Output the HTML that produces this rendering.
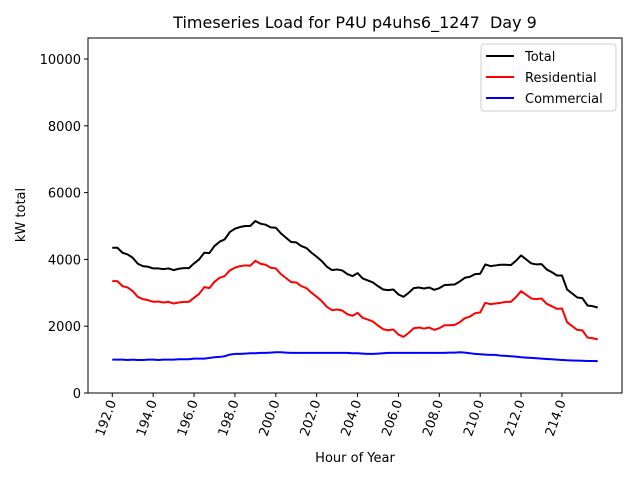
<!DOCTYPE html>
<html><head><meta charset="utf-8"><style>
body{margin:0;background:#fff;font-family:"DejaVu Sans","Liberation Sans",sans-serif}
svg text{font-family:"DejaVu Sans","Liberation Sans",sans-serif;fill:#000}
</style></head><body>
<svg id="chart" width="640" height="480" xmlns="http://www.w3.org/2000/svg">
<rect width="640" height="480" fill="#fff"/>
<text x="355" y="28" font-size="16" text-anchor="middle">Timeseries Load for P4U p4uhs6_1247&#160; Day 9</text>
<g id="grid"></g>
<g id="series"></g>
<rect x="88" y="38" width="534" height="355" fill="none" stroke="#000" stroke-width="1"/>
<g id="axes"></g>
<text x="355" y="462" font-size="13" text-anchor="middle">Hour of Year</text>
<text x="25" y="215" font-size="13" text-anchor="middle" transform="rotate(-90 25 215)">kW total</text>
<g>
<rect x="481" y="44" width="135" height="67" rx="3" fill="#fff" fill-opacity="0.8" stroke="#ccc"/>
<line x1="486" y1="56" x2="514" y2="56" stroke="#000" stroke-width="2"/>
<text x="525" y="61" font-size="13">Total</text>
<line x1="486" y1="77" x2="514" y2="77" stroke="#f00" stroke-width="2"/>
<text x="525" y="82" font-size="13">Residential</text>
<line x1="486" y1="98" x2="514" y2="98" stroke="#00f" stroke-width="2"/>
<text x="525" y="103" font-size="13">Commercial</text>
</g>
</svg>
<script>
const xStart = 192, xStep = 0.25;
const totalLoad = [4350,4350,4200,4150,4050,3870,3800,3780,3730,3730,3710,3730,3680,3720,3740,3740,
3880,4000,4200,4190,4400,4530,4600,4820,4920,4970,5000,5000,5150,5070,5040,4960,
4950,4780,4650,4520,4510,4400,4340,4200,4080,3950,3780,3680,3700,3670,3560,3500,
3590,3430,3370,3310,3200,3100,3080,3100,2950,2880,3000,3140,3160,3130,3160,3090,
3140,3230,3240,3250,3340,3450,3480,3560,3570,3850,3800,3820,3840,3840,3830,3960,
4120,4000,3880,3850,3860,3700,3620,3520,3520,3100,2980,2860,2840,2620,2600,2560];
const residentialLoad = [3350,3350,3200,3160,3050,2880,2810,2780,2730,2740,2710,2730,2680,2710,2730,2730,
2850,2970,3170,3140,3330,3450,3500,3670,3750,3800,3820,3810,3960,3870,3840,3750,
3730,3560,3440,3320,3310,3200,3140,3000,2880,2750,2580,2480,2500,2470,2360,2310,
2400,2250,2200,2140,2020,1910,1880,1900,1750,1680,1800,1940,1960,1930,1960,1890,
1940,2030,2030,2040,2120,2240,2290,2390,2410,2700,2660,2680,2700,2730,2730,2870,
3050,2940,2830,2810,2830,2670,2600,2520,2530,2120,2000,1890,1875,1660,1640,1605];
const commercialLoad = [1000,1000,1000,990,1000,990,990,1000,1000,990,1000,1000,1000,1010,1010,1010,
1030,1030,1030,1050,1070,1080,1100,1150,1170,1170,1180,1190,1190,1200,1200,1210,
1220,1220,1210,1200,1200,1200,1200,1200,1200,1200,1200,1200,1200,1200,1200,1190,
1190,1180,1170,1170,1180,1190,1200,1200,1200,1200,1200,1200,1200,1200,1200,1200,
1200,1200,1210,1210,1220,1210,1190,1170,1160,1150,1140,1140,1120,1110,1100,1090,
1070,1060,1050,1040,1030,1020,1010,1000,990,980,975,970,965,960,960,955];
const xTicks = [192,194,196,198,200,202,204,206,208,210,212,214];
const xTickLabels = ["192.0","194.0","196.0","198.0","200.0","202.0","204.0","206.0","208.0","210.0","212.0","214.0"];
const yTicks = [0,2000,4000,6000,8000,10000];
const yTickLabels = ["0","2000","4000","6000","8000","10000"];

const X0=88,X1=622,Y0=393,Y1=38;
const xMin=190.8125,xMax=216.9375,yMin=0,yMax=10630;
const sx=v=>X0+(v-xMin)/(xMax-xMin)*(X1-X0);
const sy=v=>Y0-(v-yMin)/(yMax-yMin)*(Y0-Y1);
const NS="http://www.w3.org/2000/svg";
const axes=document.getElementById('axes'), ser=document.getElementById('series');
function mk(tag,attrs,parent){const e=document.createElementNS(NS,tag);for(const k in attrs)e.setAttribute(k,attrs[k]);parent.appendChild(e);return e;}
xTicks.forEach((t,i)=>{
  const x=sx(t);
  const l=mk('line',{x1:x,y1:Y0,x2:x,y2:Y0+4,stroke:'#000'},axes);
  
  
  const tx=mk('text',{x:x+4,y:Y0+9,'font-size':13,'text-anchor':'end',transform:`rotate(-70 ${x+4} ${Y0+9})`},axes);
  tx.textContent=xTickLabels[i];
  
  
});
yTicks.forEach((t,i)=>{
  const y=sy(t);
  const l=mk('line',{x1:X0-4,y1:y,x2:X0,y2:y,stroke:'#000'},axes);
  
  
  const tx=mk('text',{x:X0-7,y:y+5,'font-size':13,'text-anchor':'end'},axes);
  tx.textContent=yTickLabels[i];
  
  
});
function line(vals,color,name){
  const pts=vals.map((v,i)=>sx(xStart+i*xStep).toFixed(2)+','+sy(v).toFixed(2)).join(' ');
  const p=mk('polyline',{points:pts,fill:'none',stroke:color,'stroke-width':2,'stroke-linejoin':'round'},ser);
  
  
}
line(totalLoad,'#000','total-line');
line(residentialLoad,'#f00','residential-line');
line(commercialLoad,'#00f','commercial-line');
</script>
</body></html>
